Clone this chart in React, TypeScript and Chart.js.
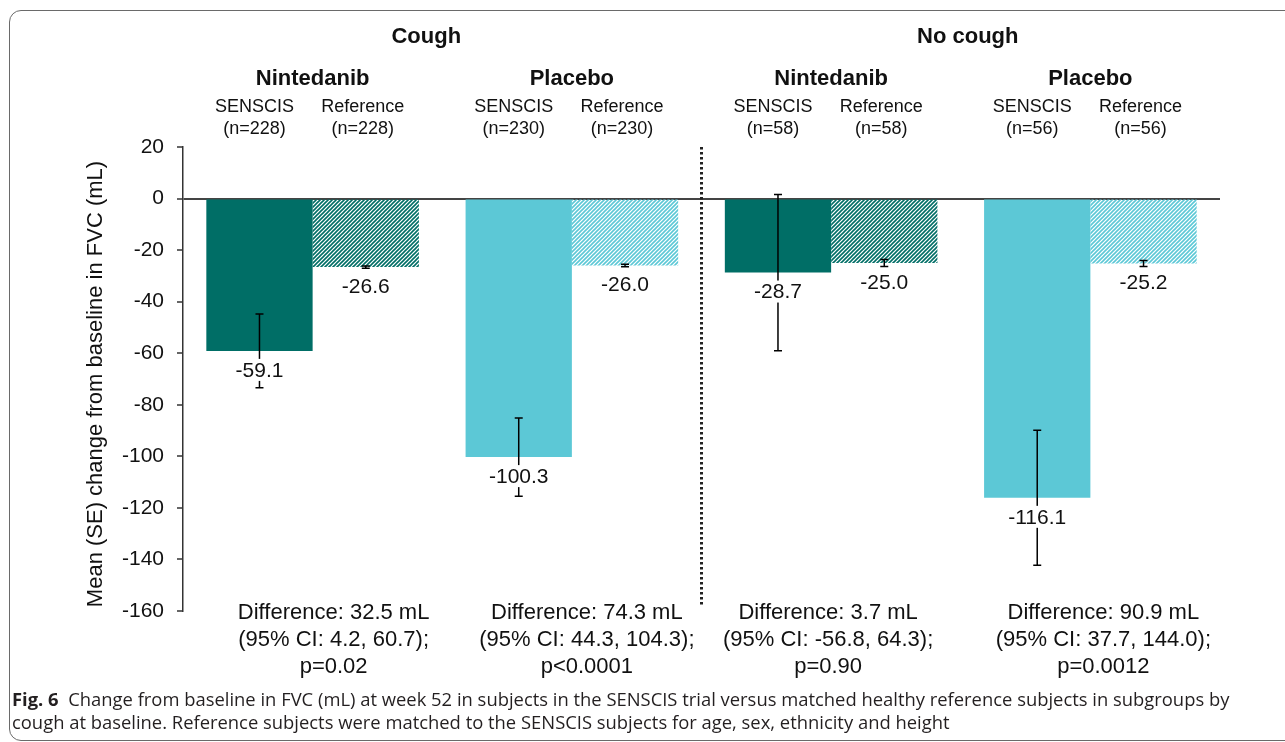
import React, { useEffect, useRef } from "react";
import { Chart, registerables } from "chart.js";

Chart.register(...registerables);

// ---------- data ----------
const coughGroups = ["Cough", "No cough"];
const treatments = ["Nintedanib", "Placebo", "Nintedanib", "Placebo"];
const seriesNames = ["SENSCIS", "Reference"];
const senscisN = [228, 230, 58, 56];
const referenceN = [228, 230, 58, 56];
const senscisMean = [-59.1, -100.3, -28.7, -116.1];
const senscisSE = [14.3, 15.2, 30.3, 26.2];
const referenceMean = [-26.6, -26.0, -25.0, -25.2];
const referenceSE = [0.4, 0.5, 1.4, 1.2];
const differenceLines = [
  ["Difference: 32.5 mL", "(95% CI: 4.2, 60.7);", "p=0.02"],
  ["Difference: 74.3 mL", "(95% CI: 44.3, 104.3);", "p<0.0001"],
  ["Difference: 3.7 mL", "(95% CI: -56.8, 64.3);", "p=0.90"],
  ["Difference: 90.9 mL", "(95% CI: 37.7, 144.0);", "p=0.0012"],
];
const yMin = -160;
const yMax = 20;
const yStep = 20;
const yTitle = "Mean (SE) change from baseline in FVC (mL)";

const DARK = "#006e66";
const LIGHT = "#5cc8d6";
const FONT = "'Liberation Sans', Arial, sans-serif";

function makeHatch(color: string): CanvasPattern | string {
  const c = document.createElement("canvas");
  c.width = 4;
  c.height = 4;
  const g = c.getContext("2d");
  if (!g) return color;
  g.strokeStyle = color;
  g.lineWidth = 1.6;
  g.beginPath();
  g.moveTo(0, 4);
  g.lineTo(4, 0);
  g.moveTo(-1, 1);
  g.lineTo(1, -1);
  g.moveTo(3, 5);
  g.lineTo(5, 3);
  g.stroke();
  return g.createPattern(c, "repeat") || color;
}

const annotationPlugin = {
  id: "annotations",
  afterDatasetsDraw(chart: any) {
    const ctx: CanvasRenderingContext2D = chart.ctx;
    const y = chart.scales.y;
    const x = chart.scales.x;
    const area = chart.chartArea;
    const means = [senscisMean, referenceMean];
    const ses = [senscisSE, referenceSE];

    ctx.save();
    // dotted separator
    const sepX = (x.getPixelForValue(1) + x.getPixelForValue(2)) / 2;
    ctx.strokeStyle = "#222";
    ctx.lineWidth = 3;
    ctx.setLineDash([2.5, 2.5]);
    ctx.beginPath();
    ctx.moveTo(sepX, area.top);
    ctx.lineTo(sepX, y.getPixelForValue(-158));
    ctx.stroke();
    ctx.setLineDash([]);

    // error bars
    ctx.strokeStyle = "#000";
    ctx.lineWidth = 1.5;
    for (let d = 0; d < 2; d++) {
      const meta = chart.getDatasetMeta(d);
      meta.data.forEach((bar: any, i: number) => {
        const top = y.getPixelForValue(means[d][i] + ses[d][i]);
        const bot = y.getPixelForValue(means[d][i] - ses[d][i]);
        ctx.beginPath();
        ctx.moveTo(bar.x, top);
        ctx.lineTo(bar.x, bot);
        ctx.moveTo(bar.x - 4, top);
        ctx.lineTo(bar.x + 4, top);
        ctx.moveTo(bar.x - 4, bot);
        ctx.lineTo(bar.x + 4, bot);
        ctx.stroke();
      });
    }

    // value labels with white background
    ctx.font = `21px ${FONT}`;
    ctx.textAlign = "center";
    ctx.textBaseline = "middle";
    for (let d = 0; d < 2; d++) {
      const meta = chart.getDatasetMeta(d);
      meta.data.forEach((bar: any, i: number) => {
        const txt = means[d][i].toFixed(1);
        const cy = y.getPixelForValue(means[d][i]) + 19;
        const w = ctx.measureText(txt).width + 6;
        ctx.fillStyle = "#fff";
        ctx.fillRect(bar.x - w / 2, cy - 11, w, 22);
        ctx.fillStyle = "#111";
        ctx.fillText(txt, bar.x, cy + 1);
      });
    }

    // headers
    const c = [0, 1, 2, 3].map((i) => x.getPixelForValue(i));
    ctx.fillStyle = "#111";
    ctx.font = `bold 22px ${FONT}`;
    ctx.fillText(coughGroups[0], (c[0] + c[1]) / 2 - 16, 37);
    ctx.fillText(coughGroups[1], (c[2] + c[3]) / 2 + 7, 37);
    treatments.forEach((t, i) => ctx.fillText(t, c[i], 79));
    ctx.font = `18px ${FONT}`;
    const m0 = chart.getDatasetMeta(0).data;
    const m1 = chart.getDatasetMeta(1).data;
    for (let i = 0; i < 4; i++) {
      ctx.fillText(seriesNames[0], m0[i].x - 5, 107);
      ctx.fillText(`(n=${senscisN[i]})`, m0[i].x - 5, 129);
      ctx.fillText(seriesNames[1], m1[i].x - 3, 107);
      ctx.fillText(`(n=${referenceN[i]})`, m1[i].x - 3, 129);
    }

    // differences
    ctx.font = `22px ${FONT}`;
    const offs = [21, 15, -3, 13];
    differenceLines.forEach((lines, i) => {
      lines.forEach((ln, k) => {
        ctx.fillText(ln, c[i] + offs[i], 613 + k * 27);
      });
    });

    // y axis title
    ctx.save();
    ctx.translate(96, (area.top + area.bottom) / 2 + 5);
    ctx.rotate(-Math.PI / 2);
    ctx.font = `22px ${FONT}`;
    ctx.fillText(yTitle, 0, 0);
    ctx.restore();

    ctx.restore();
  },
};

export default function App() {
  const ref = useRef<HTMLCanvasElement | null>(null);

  useEffect(() => {
    document.body.style.margin = "0";
    const canvas = ref.current;
    if (!canvas) return;
    const hatchDark = makeHatch(DARK);
    const hatchLight = makeHatch(LIGHT);
    const labels = treatments.map((t, i) => `${coughGroups[i < 2 ? 0 : 1]} ${t}`);
    const chart = new Chart(canvas, {
      type: "bar",
      data: {
        labels,
        datasets: [
          {
            label: seriesNames[0],
            data: senscisMean,
            backgroundColor: [DARK, LIGHT, DARK, LIGHT],
            borderWidth: 0,
          },
          {
            label: seriesNames[1],
            data: referenceMean,
            backgroundColor: [hatchDark, hatchLight, hatchDark, hatchLight] as any,
            borderWidth: 0,
          },
        ],
      },
      options: {
        responsive: false,
        animation: false,
        devicePixelRatio: 1,
        layout: { padding: { left: 0, right: 65, top: 147, bottom: 131 } },
        datasets: { bar: { categoryPercentage: 0.82, barPercentage: 1.0 } },
        plugins: { legend: { display: false }, tooltip: { enabled: false }, title: { display: false } },
        scales: {
          x: { display: false },
          y: {
            min: yMin,
            max: yMax,
            ticks: { stepSize: yStep, color: "#111", font: { family: FONT, size: 21 }, padding: 13 },
            grid: {
              color: (c: any) => (c.tick && c.tick.value === 0 ? "#444" : "rgba(0,0,0,0)"),
              lineWidth: 2,
              tickColor: "#333",
              tickLength: 6,
              tickWidth: 1.5,
            },
            border: { display: true, color: "#333", width: 1.5 },
            title: { display: false },
            afterFit: (s: any) => {
              s.width = 183;
            },
          },
        },
      },
      plugins: [annotationPlugin],
    });
    return () => chart.destroy();
  }, []);

  return (
    <div style={{ position: "relative", width: 1285, height: 742, overflow: "hidden", background: "#fff" }}>
      <div
        style={{
          position: "absolute",
          left: 9,
          top: 10,
          width: 1320,
          height: 731,
          border: "1.5px solid #6a6a6a",
          borderRadius: 12,
          boxSizing: "border-box",
        }}
      />
      <canvas ref={ref} width={1285} height={742} style={{ position: "absolute", left: 0, top: 0 }} />
      <div
        style={{
          position: "absolute",
          left: 12,
          top: 687,
          fontFamily: "'Open Sans', sans-serif",
          fontSize: 18.4,
          lineHeight: "23px",
          color: "#231f20",
          whiteSpace: "nowrap",
        }}
      >
        <div>
          <b>Fig. 6</b>
          {"\u00a0\u00a0Change from baseline in FVC (mL) at week 52 in subjects in the SENSCIS trial versus matched healthy reference subjects in subgroups by"}
        </div>
        <div>
          cough at baseline. Reference subjects were matched to the SENSCIS subjects for age, sex, ethnicity and height
        </div>
      </div>
    </div>
  );
}
